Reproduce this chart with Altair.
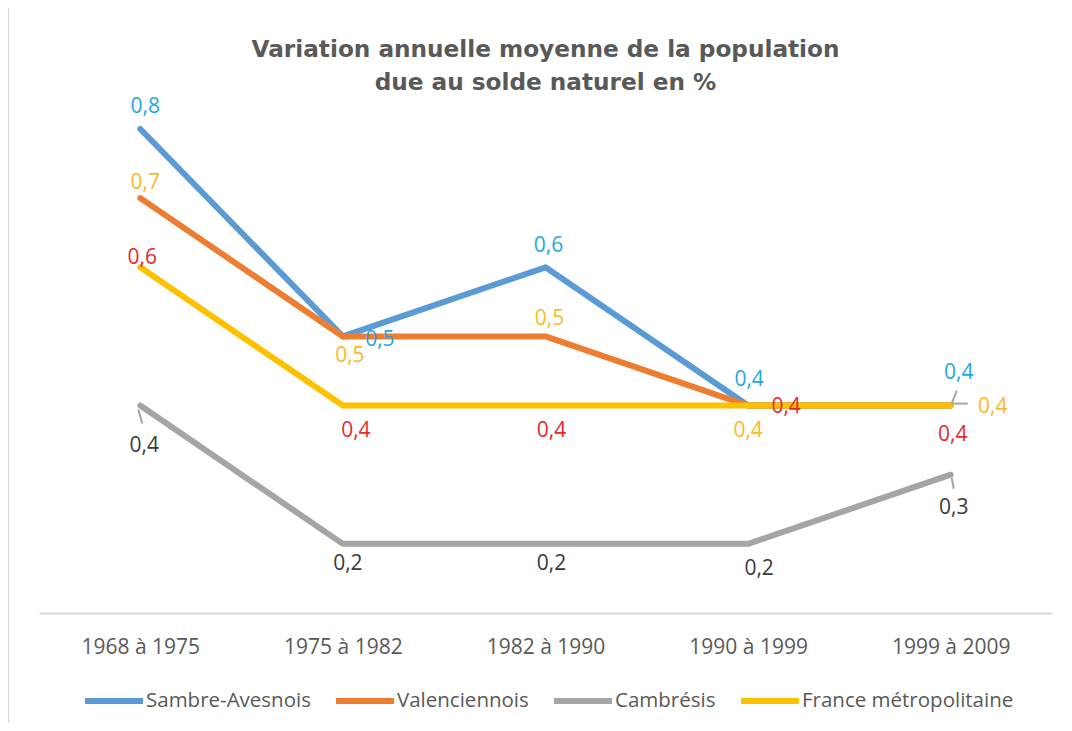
import altair as alt
import pandas as pd

# ---------------- data ----------------
periods = ["1968 à 1975", "1975 à 1982", "1982 à 1990", "1990 à 1999", "1999 à 2009"]
series_names = ["Sambre-Avesnois", "Valenciennois", "Cambrésis", "France métropolitaine"]
sambre = [0.8, 0.5, 0.6, 0.4, 0.4]
valenciennois = [0.7, 0.5, 0.5, 0.4, 0.4]
cambresis = [0.4, 0.2, 0.2, 0.2, 0.3]
france = [0.6, 0.4, 0.4, 0.4, 0.4]
series_values = [sambre, valenciennois, cambresis, france]

# ---------------- styles ----------------
line_colors = ["#5B9BD5", "#ED7D31", "#A5A5A5", "#FFC000"]
BLUE, YEL, RED, DARK = "#1FA7E1", "#FDB927", "#E8282B", "#3A3A3A"
label_colors = [
    [BLUE, BLUE, BLUE, BLUE, BLUE],
    [YEL, YEL, YEL, RED, RED],
    [DARK, DARK, DARK, DARK, DARK],
    [RED, RED, RED, YEL, YEL],
]
label_dx = [
    [5, 37, 3, 1, 8],
    [5, 7, 4, 38, 2],
    [4, 5, 6, 11, 3],
    [2, 13, 6, 0, 42],
]
label_dy = [
    [-22, 4, -21, -26, -33],
    [-15, 20, -17, 1, 29],
    [40, 20, 20, 25, 33],
    [-9, 25, 25, 25, 1],
]
# leader lines: (series, period, start offset, end offset) in pixels
leader_series = ["Cambrésis", "Cambrésis", "Sambre-Avesnois", "France métropolitaine"]
leader_period = ["1968 à 1975", "1999 à 2009", "1999 à 2009", "1999 à 2009"]
leader_offsets = [(-2, 4, 2, 18), (1, 3, 3, 14), (6, -15, 1, -2), (1, -2, 17, -2)]

FONT = "Open Sans"
GREY_TXT = "#595959"

rows = []
for name, vals in zip(series_names, series_values):
    for p, v in zip(periods, vals):
        rows.append({"series": name, "period": p, "value": v,
                     "label": f"{v:.1f}".replace(".", ",")})
df = pd.DataFrame(rows)

x_enc = alt.X("period:N", sort=periods,
              scale=alt.Scale(type="point", padding=0.5),
              axis=alt.Axis(title=None, domainColor="#D9D9D9", domainWidth=2,
                            ticks=False, grid=False, labelAngle=0,
                            labelFont=FONT, labelFontSize=21, labelColor=GREY_TXT,
                            labelPadding=23))
y_enc = alt.Y("value:Q", scale=alt.Scale(domain=[0.1, 0.8], zero=False, nice=False),
              axis=None)

lines = alt.Chart(df).mark_line(strokeWidth=6, strokeCap="round", strokeJoin="round").encode(
    x=x_enc, y=y_enc,
    color=alt.Color("series:N", sort=series_names,
                    scale=alt.Scale(domain=series_names, range=line_colors),
                    legend=alt.Legend(title=None, orient="none", legendX=43, legendY=540,
                                      direction="horizontal", symbolType="stroke",
                                      symbolSize=3364, symbolStrokeWidth=6,
                                      labelFont=FONT, labelFontSize=20.5,
                                      labelColor=GREY_TXT, labelOffset=0,
                                      columnPadding=13, labelLimit=400)),
)

layers = []
for (s, p, (ax, ay, bx, by)) in zip(leader_series, leader_period, leader_offsets):
    layers.append(
        alt.Chart(df).transform_filter(
            (alt.datum.series == s) & (alt.datum.period == p)
        ).mark_rule(color="#A5A5A5", strokeWidth=2,
                    xOffset=ax, yOffset=ay, x2Offset=bx, y2Offset=by
        ).encode(x=x_enc, x2="period:N", y=y_enc, y2="value:Q")
    )
layers.insert(0, lines)

for si, name in enumerate(series_names):
    for pi, p in enumerate(periods):
        layers.append(
            alt.Chart(df).transform_filter(
                (alt.datum.series == name) & (alt.datum.period == p)
            ).mark_text(font=FONT, fontSize=21, align="center", baseline="middle",
                        color=label_colors[si][pi], dx=label_dx[si][pi], dy=label_dy[si][pi]
            ).encode(x=x_enc, y=y_enc, text="label:N")
        )

# faint chart border on the left edge
border = alt.Chart(pd.DataFrame({"a": [0]})).mark_rule(color="#D9D9D9", strokeWidth=1).encode(
    x=alt.value(-30.5), y=alt.value(-121), y2=alt.value(594))
layers.append(border)

chart = alt.layer(*layers).properties(
    width=1013, height=484,
    title=alt.TitleParams(
        text=["Variation annuelle moyenne de la population", "due au solde naturel en %"],
        font="DejaVu Sans", fontSize=23.2, fontWeight="bold", color=GREY_TXT,
        anchor="middle", offset=-88, lineHeight=33),
    padding={"left": 31, "top": 121, "right": 12, "bottom": 110},
    autosize=alt.AutoSizeParams(type="none"),
).configure_view(stroke=None)

chart.save("out.html", embed_options={"renderer": "svg", "actions": False})
